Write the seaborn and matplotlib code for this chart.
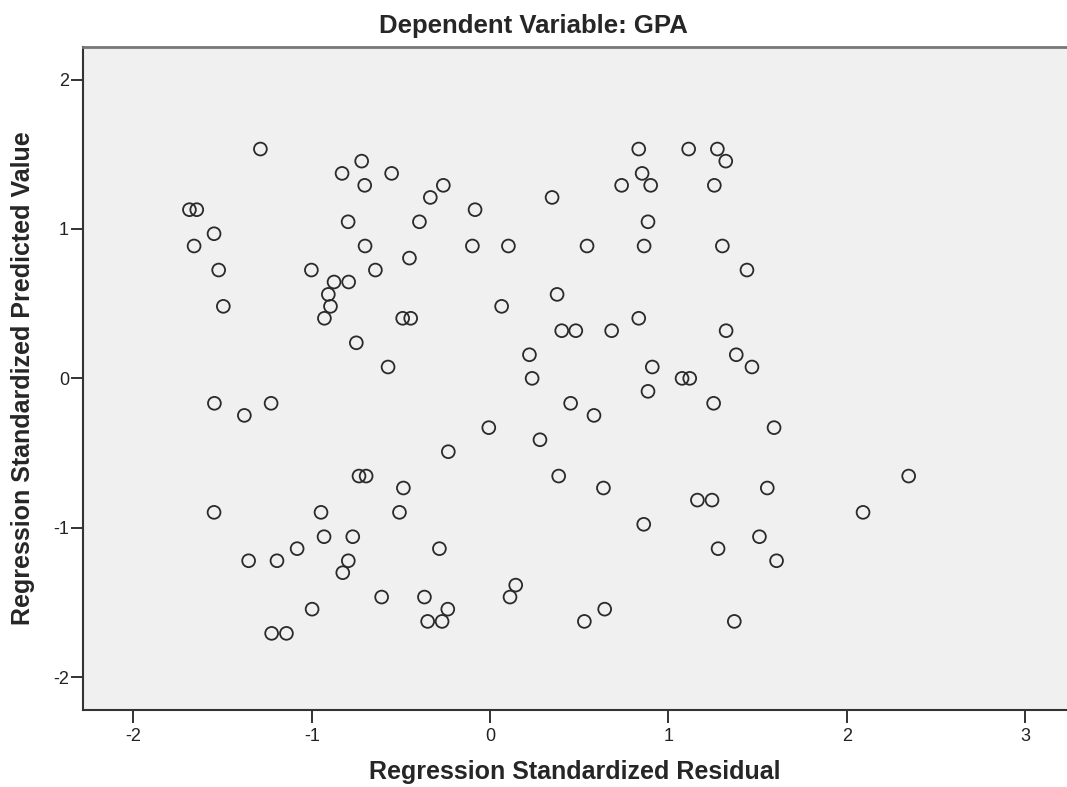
import matplotlib
matplotlib.use("Agg")
import matplotlib.pyplot as plt
import seaborn as sns
import pandas as pd

residual = [
    -1.288, -0.720, -0.830, -0.552, -0.703, -0.262, -0.335, 0.348, -1.686, -1.645,
    -0.084, -0.796, -0.396, -1.548, -1.660, -0.701, -0.099, 0.103, -0.452, -1.522,
    -1.002, -0.643, -0.875, -0.793, -0.907, 0.376, -1.496, -0.895, 0.065, -0.929,
    -0.490, -0.445, 0.402, 0.481, -0.750, 0.221, -0.572, 0.236,
    0.834, 1.114, 1.275, 1.322, 0.853, 0.738, 0.901, 1.258, 0.886, 0.544,
    0.864, 1.303, 1.441, 0.834, 0.682, 1.324, 1.381, 1.469, 0.910, 1.077, 1.120,
    -1.546, -1.228, -1.378, -0.007, -0.234, 0.280, 0.452, -0.735, -0.695, 0.385,
    -0.486, -1.548, -0.948, -0.508, -0.931, -0.770, -1.082, -0.284, -1.354, -1.195,
    -0.795, -0.826, 0.144, 0.112, -0.608, -0.368, -0.998, -0.237, -0.350, -0.269,
    -1.225, -1.142,
    0.886, 0.583, 1.254, 1.593, 0.636, 2.348, 1.163, 1.245, 1.555, 0.862,
    2.092, 1.511, 1.279, 1.607, 0.643, 0.529, 1.370,
]
predicted = [
    1.535, 1.454, 1.372, 1.372, 1.292, 1.292, 1.211, 1.211, 1.129, 1.129,
    1.129, 1.048, 1.048, 0.968, 0.886, 0.886, 0.886, 0.886, 0.805, 0.725,
    0.725, 0.725, 0.645, 0.645, 0.562, 0.562, 0.482, 0.482, 0.482, 0.402,
    0.402, 0.402, 0.319, 0.319, 0.238, 0.158, 0.076, 0.000,
    1.535, 1.535, 1.535, 1.454, 1.372, 1.292, 1.292, 1.292, 1.048, 0.886,
    0.886, 0.886, 0.725, 0.402, 0.319, 0.319, 0.158, 0.076, 0.076, 0.000, 0.000,
    -0.167, -0.167, -0.248, -0.330, -0.491, -0.411, -0.167, -0.654, -0.654, -0.654,
    -0.734, -0.897, -0.897, -0.897, -1.060, -1.060, -1.140, -1.140, -1.221, -1.221,
    -1.221, -1.301, -1.384, -1.464, -1.464, -1.464, -1.545, -1.545, -1.627, -1.627,
    -1.707, -1.707,
    -0.087, -0.248, -0.167, -0.330, -0.734, -0.654, -0.815, -0.815, -0.734, -0.977,
    -0.897, -1.060, -1.140, -1.221, -1.545, -1.627, -1.627,
]

title = "Dependent Variable: GPA"
xlabel = "Regression Standardized Residual"
ylabel = "Regression Standardized Predicted Value"
xticks = [-2, -1, 0, 1, 2, 3]
yticks = [-2, -1, 0, 1, 2]

df = pd.DataFrame({"res": residual, "pred": predicted})

sns.set_style("white")
plt.rcParams["font.family"] = ["Liberation Sans", "DejaVu Sans"]

fig = plt.figure(figsize=(10.67, 7.87), dpi=100)
ax = fig.add_axes([83 / 1067, 1 - 710 / 787, 1 - 83 / 1067, (710 - 47) / 787])
ax.set_facecolor("#f0f0f0")

sns.scatterplot(data=df, x="res", y="pred", ax=ax, marker="o", s=85,
                facecolor="none", edgecolor="#2a2a2a", linewidth=1.3)

ax.set_xlim(-2.283, 3.236)
ax.set_ylim(-2.22, 2.218)
ax.set_xticks(xticks)
ax.set_yticks(yticks)
ax.set_xticklabels([str(t) for t in xticks])
ax.set_yticklabels([str(t) for t in yticks])
ax.tick_params(axis="both", which="major", bottom=True, left=True,
               direction="out", length=9, width=1.3, color="#222222",
               labelsize=13, labelcolor="#222222")
ax.tick_params(axis="x", pad=4)
ax.tick_params(axis="y", pad=1)

for side in ["left", "bottom"]:
    ax.spines[side].set_color("#333333")
    ax.spines[side].set_linewidth(1.5)
ax.spines["top"].set_color("#777777")
ax.spines["top"].set_linewidth(2.0)
ax.spines["right"].set_visible(False)

ax.set_xlabel(xlabel, fontsize=18, fontweight="bold")
ax.set_ylabel(ylabel, fontsize=18, fontweight="bold")
ax.xaxis.set_label_coords(0.5, -0.076)
ax.yaxis.set_label_coords(-0.049, 0.5)
ax.set_title(title, fontsize=18.5, fontweight="bold", pad=10,
             x=(533.5 - 83) / 984)

fig.savefig("out.png", dpi=100)
